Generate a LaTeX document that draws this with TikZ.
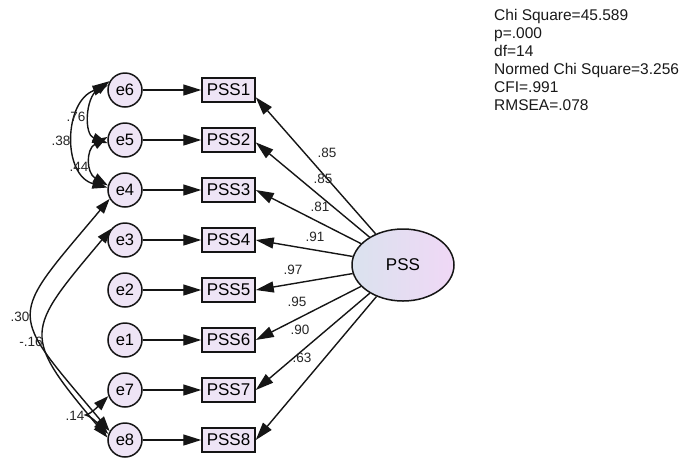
\documentclass[tikz,border=0pt]{standalone}
\usepackage{fontspec}
\setmainfont{Liberation Sans}
\usetikzlibrary{arrows.meta,shapes.geometric}
\definecolor{nodefill}{HTML}{EEE4F5}
\definecolor{ellL}{HTML}{DAE2EE}
\definecolor{ellR}{HTML}{F0D8F6}
\definecolor{edgec}{HTML}{151515}
\begin{document}
\begin{tikzpicture}[x=1pt,y=1pt,
  err/.style={circle, draw=edgec, line width=1.5pt, fill=nodefill, minimum size=34pt, inner sep=0pt, font=\fontsize{16.5}{16.5}\selectfont},
  obs/.style={rectangle, draw=edgec, line width=1.5pt, fill=nodefill, minimum width=53pt, minimum height=24pt, inner sep=0pt, font=\fontsize{17}{17}\selectfont},
  lat/.style={ellipse, draw=edgec, line width=1.5pt, left color=ellL, right color=ellR, minimum width=102pt, minimum height=72pt, inner sep=0pt, font=\fontsize{17}{17}\selectfont},
  arr/.style={line width=1.4pt, draw=edgec, -{Triangle[length=18pt,width=11pt]}},
  cov/.style={line width=1.4pt, draw=edgec, {Triangle[length=15pt,width=10pt]}-{Triangle[length=15pt,width=10pt]}},
  lbl/.style={font=\fontsize{13.5}{13.5}\selectfont, text=black!85, inner sep=0pt},
]
\useasboundingbox (0,0) rectangle (684,-459);
\fill[white] (0,0) rectangle (684,-459);

% error terms
\node[err] (e6) at (125,-90)  {e6};
\node[err] (e5) at (125,-140) {e5};
\node[err] (e4) at (125,-190) {e4};
\node[err] (e3) at (125,-240) {e3};
\node[err] (e2) at (125,-290) {e2};
\node[err] (e1) at (125,-340) {e1};
\node[err] (e7) at (125,-390) {e7};
\node[err] (e8) at (125,-440) {e8};

% observed
\node[obs] (p1) at (228.5,-90)  {PSS1};
\node[obs] (p2) at (228.5,-140) {PSS2};
\node[obs] (p3) at (228.5,-190) {PSS3};
\node[obs] (p4) at (228.5,-240) {PSS4};
\node[obs] (p5) at (228.5,-290) {PSS5};
\node[obs] (p6) at (228.5,-340) {PSS6};
\node[obs] (p7) at (228.5,-390) {PSS7};
\node[obs] (p8) at (228.5,-440) {PSS8};

% latent
\node[lat] (pss) at (403,-265) {PSS};

% error paths
\draw[arr] (e6) -- (p1);
\draw[arr] (e5) -- (p2);
\draw[arr] (e4) -- (p3);
\draw[arr] (e3) -- (p4);
\draw[arr] (e2) -- (p5);
\draw[arr] (e1) -- (p6);
\draw[arr] (e7) -- (p7);
\draw[arr] (e8) -- (p8);

% loadings
\draw[arr] (pss) -- (p1.-15);
\draw[arr] (pss) -- (p2.-5);
\draw[arr] (pss) -- (p3.east);
\draw[arr] (pss) -- (p4.east);
\draw[arr] (pss) -- (p5.east);
\draw[arr] (pss) -- (p6.east);
\draw[arr] (pss) -- (p7.east);
\draw[arr] (pss) -- (p8.east);

% covariances
\draw[cov] (e6.150) .. controls +(215:30) and +(160:25) .. (e5.190);
\draw[cov] (e5.170) .. controls +(210:25) and +(150:25) .. (e4.165);
\draw[cov] (e6.165) .. controls +(200:47) and +(165:47) .. (e4.172);
\draw[cov] (e4.210) .. controls +(230:160) and +(130:160) .. (e8.150);
\draw[cov] (e3.140) .. controls +(230:135) and +(130:135) .. (e8.172);
\draw[cov] (e7.200) .. controls +(225:38) and +(135:38) .. (e8.160);

% covariance labels
\node[lbl] (c76) at (76,-117) {.76};
\node[lbl] (c38) at (61,-141) {.38};
\node[lbl] (c44) at (79,-167) {.44};
\node[lbl] (c30) at (20,-317) {.30};
\node[lbl] (c16) at (31,-342) {-.16};
\node[lbl] (c14) at (75,-416) {.14};

% loading labels
\node[lbl] (l1) at (327,-153) {.85};
\node[lbl] (l2) at (323,-179) {.85};
\node[lbl] (l3) at (320,-207) {.81};
\node[lbl] (l4) at (315,-237) {.91};
\node[lbl] (l5) at (293,-270) {.97};
\node[lbl] (l6) at (297,-302) {.95};
\node[lbl] (l7) at (300,-330) {.90};
\node[lbl] (l8) at (302,-358) {.63};

% fit statistics
\node[anchor=north west, align=left, inner sep=0pt, text=black!90,
      font=\fontsize{15.5}{18}\selectfont] (fit) at (494,-9.5)
  {Chi Square=45.589\\p=.000\\df=14\\Normed Chi Square=3.256\\CFI=.991\\RMSEA=.078};
\end{tikzpicture}
\end{document}
